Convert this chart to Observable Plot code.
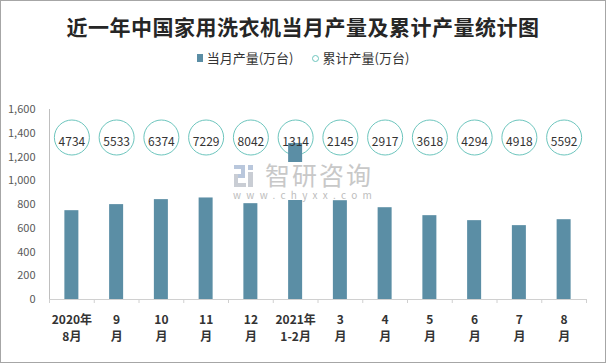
<!DOCTYPE html>
<html>
<head>
<meta charset="utf-8">
<script src="https://cdn.jsdelivr.net/npm/d3@7"></script>
<script src="https://cdn.jsdelivr.net/npm/@observablehq/plot@0.6"></script>
<style>
  html, body { margin: 0; padding: 0; background: #fff; }
  #wrap { position: relative; width: 606px; height: 363px; overflow: hidden; background: #fff;
    font-family: "Noto Sans CJK SC", "Noto Sans", sans-serif; }
  #border { position: absolute; left: 0; top: 0; width: 606px; height: 363px; box-sizing: border-box;
    border: 1px solid #a6a6a6; pointer-events: none; }
  #title { position: absolute; left: 0; top: 10px; width: 606px; text-align: center; font-size: 21px;
    font-weight: 700; color: #262626; line-height: 32px; letter-spacing: 0.5px; }
  #legend { position: absolute; left: 0; top: 49px; width: 606px; display: flex; justify-content: center;
    align-items: center; font-size: 13px; color: #333; line-height: 18px; }
  .li { display: flex; align-items: center; margin: 0 9px; }
  .sw-bar { width: 6px; height: 8px; margin-right: 4px; }
  .sw-dot { width: 5px; height: 5px; border-radius: 50%; border: 1px solid; margin-right: 4px; }
  #chart { position: absolute; left: 0; top: 95px; }
  #wm { position: absolute; left: 233px; top: 162px; width: 141px; height: 38px; background: #fff; }
  #wm .big { position: absolute; left: 32px; top: -1px; font-size: 25px; line-height: 26px; color: #c8c8c8;
    letter-spacing: 2px; }
  #wm .small { position: absolute; left: 0; top: 27px; font-size: 10px; line-height: 11px; color: #bdbdbd;
    letter-spacing: 5.3px; white-space: nowrap; }
</style>
</head>
<body>
<div id="wrap">
  <div id="title">近一年中国家用洗衣机当月产量及累计产量统计图</div>
  <div id="legend"></div>
  <div id="chart"></div>
  <div id="wm">
    <svg width="26" height="26" style="position:absolute;left:0;top:1px">
      <rect x="1" y="2" width="10" height="4" fill="#b9c7dc"/>
      <rect x="8" y="2" width="4" height="12" fill="#b9c7dc"/>
      <rect x="1" y="11" width="11" height="4" fill="#b9c7dc"/>
      <rect x="1" y="11" width="4" height="13" fill="#c9cdd4"/>
      <rect x="1" y="20" width="12" height="4" fill="#c9cdd4"/>
      <rect x="15" y="2" width="5" height="5" fill="#b9c7dc"/>
      <rect x="15" y="9" width="5" height="15" fill="#c9cdd4"/>
    </svg>
    <div class="big">智研咨询</div>
    <div class="small">www.chyxx.com</div>
  </div>
  <div id="border"></div>
</div>
<script>
// ---- data ----
const categories = ["2020年\n8月", "9\n月", "10\n月", "11\n月", "12\n月", "2021年\n1-2月",
                    "3\n月", "4\n月", "5\n月", "6\n月", "7\n月", "8\n月"];
const monthly = [748, 799, 841, 855, 807, 1314, 832, 773, 706, 664, 622, 672];
const cumulative = [4734, 5533, 6374, 7229, 8042, 1314, 2145, 2917, 3618, 4294, 4918, 5592];
const yTicks = [0, 200, 400, 600, 800, 1000, 1200, 1400, 1600];
const seriesNames = ["当月产量(万台)", "累计产量(万台)"];

// ---- styles ----
const barColor = "#5b8ea5";
const circleColor = "#6cc5bd";

const data = categories.map((c, i) => ({cat: c, monthly: monthly[i], cumulative: cumulative[i]}));

// legend
const legend = document.getElementById("legend");
legend.innerHTML =
  `<div class="li"><div class="sw-bar" style="background:${barColor}"></div>${seriesNames[0]}</div>` +
  `<div class="li"><div class="sw-dot" style="border-color:${circleColor}"></div>${seriesNames[1]}</div>`;

const W = 606, H = 268, ML = 49, MR = 20, MT = 14, MB = 64;
const step = (W - ML - MR) / categories.length;
const barW = 14;
const inset = (step - barW) / 2;

const chart = Plot.plot({
  width: W,
  height: H,
  marginLeft: ML,
  marginRight: MR,
  marginTop: MT,
  marginBottom: MB,
  style: {fontFamily: '"Noto Sans CJK SC", "Noto Sans", sans-serif', background: "transparent"},
  x: {type: "band", domain: categories, padding: 0, round: false, label: null},
  y: {domain: [0, 1600], label: null},
  marks: [
    Plot.frame({anchor: "left", stroke: "#bfbfbf"}),
    Plot.ruleY([0], {stroke: "#d0d0d0"}),
    Plot.axisY({ticks: yTicks, tickSize: 0, tickPadding: 14, tickFormat: d3.format(","),
                fontSize: 11, color: "#595959", label: null}),
    Plot.axisX({tickSize: 4, tickFormat: () => "", dx: -step / 2, stroke: "#d0d0d0", label: null}),
    Plot.axisX({ticks: [categories[categories.length - 1]], tickSize: 4, tickFormat: () => "",
                dx: step / 2, stroke: "#d0d0d0", label: null}),
    Plot.axisX({tickSize: 0, tickPadding: 12, fontSize: 12, fontWeight: "bold", color: "#333",
                lineHeight: 1.42, label: null}),
    Plot.dot(data, {x: "cat", frameAnchor: "top", dy: 28, r: 17.5, stroke: circleColor,
                    strokeWidth: 1, fill: "white"}),
    Plot.barY(data, {x: "cat", y: "monthly", fill: barColor, insetLeft: inset, insetRight: inset}),
    Plot.text(data, {x: "cat", frameAnchor: "top", dy: 28, text: d => String(d.cumulative),
                     fontSize: 12, fill: "#333"})
  ]
});
document.getElementById("chart").appendChild(chart);
</script>
</body>
</html>
